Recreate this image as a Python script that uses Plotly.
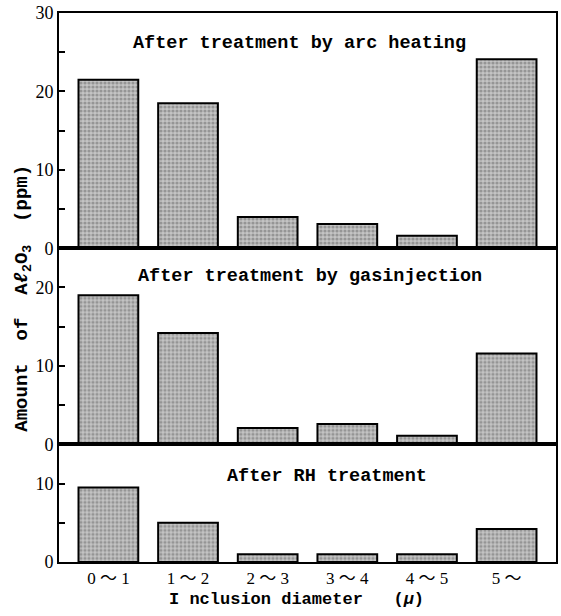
import plotly.graph_objects as go
from plotly.subplots import make_subplots

categories = ["0 ～ 1", "1 ～ 2", "2 ～ 3", "3 ～ 4", "4 ～ 5", "5 ～"]
arc_heating = [21.5, 18.5, 4.0, 3.1, 1.6, 24.1]
gas_injection = [19.0, 14.2, 2.1, 2.6, 1.1, 11.6]
rh_treatment = [9.5, 5.0, 1.0, 1.0, 1.0, 4.2]
panel_titles = ["After treatment by arc heating",
                "After treatment by gasinjection",
                "After RH treatment"]
y_ranges = [(0, 30), (0, 25), (0, 15)]
major_ticks = [[0, 10, 20, 30], [0, 10, 20], [0, 10]]
minor_ticks = [[5, 15, 25], [5, 15], [5]]

FONT = "Liberation Serif, DejaVu Serif, Noto Sans CJK JP, serif"
MONO = "Liberation Mono, DejaVu Sans Mono, monospace"

fig = make_subplots(rows=3, cols=1, shared_xaxes=True, vertical_spacing=0,
                    row_heights=[30, 25, 15])

series = [arc_heating, gas_injection, rh_treatment]
for i, vals in enumerate(series):
    fig.add_trace(go.Bar(
        x=list(range(len(categories))), y=vals, width=0.75,
        marker=dict(color="#bcbcbc",
                    line=dict(color="black", width=2),
                    pattern=dict(shape=".", fgcolor="#666666", bgcolor="#c4c4c4",
                                 size=4, solidity=0.5)),
        showlegend=False), row=i + 1, col=1)
    fig.update_yaxes(range=list(y_ranges[i]), tickvals=major_ticks[i],
                     ticktext=[str(v) for v in major_ticks[i]],
                     ticks="inside", ticklen=6, tickwidth=1.5, tickcolor="black",
                     minor=dict(tickvals=minor_ticks[i], ticks="inside", ticklen=6,
                                tickwidth=1.5, tickcolor="black"),
                     showline=True, linecolor="black", linewidth=2, mirror=True,
                     showgrid=False, zeroline=False,
                     tickfont=dict(family=FONT, size=18, color="black"),
                     row=i + 1, col=1)
    fig.update_xaxes(range=[-0.62, 5.62], showline=True, linecolor="black",
                     linewidth=2, mirror=True, showgrid=False, zeroline=False,
                     ticks="", row=i + 1, col=1)

fig.update_xaxes(tickvals=list(range(len(categories))), ticktext=categories,
                 tickfont=dict(family=FONT, size=17, color="black"),
                 showticklabels=True, row=3, col=1)

# panel captions
caption_pos = [(0.483, "y domain", 0.869, 1), (0.505, "y2 domain", 0.857, 2),
               (0.54, "y3 domain", 0.73, 3)]
for (xp, yref, yp, r), txt in zip(caption_pos, panel_titles):
    fig.add_annotation(text=txt, x=xp, y=yp, xref="x domain" if r == 1 else f"x{r} domain",
                       yref=yref, showarrow=False, xanchor="center", yanchor="middle",
                       font=dict(family=MONO, size=18.5, color="black", weight="bold"))

fig.add_annotation(text="Amount  of  A<i>ℓ</i><sub>2</sub>O<sub>3</sub>  (ppm)",
                   x=-0.072, y=0.48, xref="paper", yref="paper", textangle=-90,
                   xanchor="center", yanchor="middle",
                   showarrow=False, font=dict(family=MONO, size=19, color="black",
                                              weight="bold"))
fig.add_annotation(text="I nclusion diameter   (<i>μ</i>)",
                   x=0.478, y=-0.069, xref="paper", yref="paper", showarrow=False,
                   xanchor="center", yanchor="middle",
                   font=dict(family=MONO, size=17, color="black", weight="bold"))

fig.update_layout(width=561, height=616, margin=dict(l=59, r=3, t=11, b=54),
                  plot_bgcolor="white", paper_bgcolor="white", bargap=0.25)

fig.write_html("out.html")
